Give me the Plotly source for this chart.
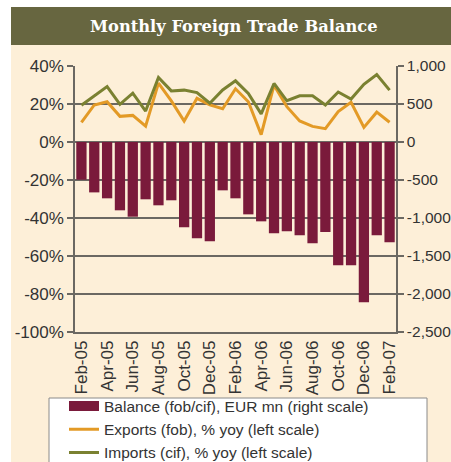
import plotly.graph_objects as go

months = ["Feb-05","Mar-05","Apr-05","May-05","Jun-05","Jul-05","Aug-05","Sep-05","Oct-05","Nov-05","Dec-05","Jan-06",
          "Feb-06","Mar-06","Apr-06","May-06","Jun-06","Jul-06","Aug-06","Sep-06","Oct-06","Nov-06","Dec-06","Jan-07","Feb-07"]
balance = [-496, -663, -741, -899, -983, -754, -833, -767, -1123, -1268, -1307, -636,
           -741, -952, -1044, -1202, -1175, -1228, -1333, -1184, -1623, -1623, -2110, -1228, -1320]
exports = [10.3, 19.5, 21.2, 13.5, 14.0, 8.3, 31.0, 21.6, 11.0, 23.0, 19.5, 17.5,
           28.0, 21.2, 3.9, 29.9, 18.6, 11.1, 8.2, 7.0, 16.0, 20.9, 7.7, 15.7, 10.4]
imports = [19.3, 24.2, 29.2, 19.8, 25.7, 16.3, 34.0, 26.9, 27.3, 26.0, 20.4, 27.4,
           32.2, 25.6, 14.8, 30.8, 21.7, 24.3, 24.3, 19.5, 26.3, 22.6, 30.4, 35.5, 27.3]
tick_labels = months[::2]
left_ticks = [40, 20, 0, -20, -40, -60, -80, -100]
right_ticks = [1000, 500, 0, -500, -1000, -1500, -2000, -2500]

MAROON = "#7A1A3B"
ORANGE = "#E39A26"
GREEN = "#7A8131"
CREAM = "#FDEFD8"
OLIVE = "#676640"
GRID = "#6b6862"
FONT = "Liberation Sans, Arial, sans-serif"

W, H = 451, 462
L, R, T, B = 75, 396, 66, 332

def px(x):
    return (x - L) / (R - L)

def py(y):
    return (B - y) / (B - T)

fig = go.Figure()
fig.add_trace(go.Bar(x=months, y=balance, yaxis="y2", marker=dict(color=MAROON, line=dict(width=0)),
                     showlegend=False, name="Balance (fob/cif), EUR mn (right scale)"))
fig.add_trace(go.Scatter(x=[None], y=[None], mode="lines", line=dict(color=MAROON, width=10),
                         name="Balance (fob/cif), EUR mn (right scale)"))
fig.add_trace(go.Scatter(x=months, y=exports, mode="lines", line=dict(color=ORANGE, width=3),
                         name="Exports (fob), % yoy (left scale)"))
fig.add_trace(go.Scatter(x=months, y=imports, mode="lines", line=dict(color=GREEN, width=3),
                         name="Imports (cif), % yoy (left scale)"))

fig.update_layout(
    width=W, height=H,
    margin=dict(l=L, r=W - R, t=T, b=H - B, pad=0, autoexpand=False),
    paper_bgcolor="white",
    plot_bgcolor="rgba(0,0,0,0)",
    bargap=0.2,
    font=dict(family=FONT, color="#333333", size=17),
    xaxis=dict(type="category", categoryorder="array", categoryarray=months,
               tickmode="array", tickvals=tick_labels, ticktext=tick_labels, tickangle=-90,
               showline=True, linecolor=GRID, linewidth=1.5, showgrid=False, ticks="",
               tickfont=dict(size=17, color="#333333"), range=[-0.5, 24.5]),
    yaxis=dict(range=[-100, 40], tickvals=left_ticks, ticktext=[f"{v}%" for v in left_ticks],
               showline=True, linecolor=GRID, linewidth=1.5, ticks="outside", ticklen=6,
               tickcolor=GRID, tickwidth=1.5, showgrid=True, gridcolor=GRID, gridwidth=1.5,
               zeroline=False, tickfont=dict(size=17)),
    yaxis2=dict(range=[-2500, 1000], overlaying="y", side="right", tickvals=right_ticks,
                ticktext=[f"{v:,}" for v in right_ticks], showline=True, linecolor=GRID, linewidth=1.5,
                ticks="outside", ticklen=6, tickcolor=GRID, tickwidth=1.5, showgrid=False,
                zeroline=False, tickfont=dict(size=15.5)),
    legend=dict(x=px(64), y=py(389.5), xanchor="left", yanchor="top", bgcolor="rgba(0,0,0,0)",
                borderwidth=0, font=dict(size=15.5, color="#333333"),
                traceorder="normal", tracegroupgap=0),
    shapes=[
        dict(type="rect", xref="paper", yref="paper", x0=px(11), x1=px(451), y0=py(462), y1=py(45),
             fillcolor=CREAM, line=dict(width=0), layer="below"),
        dict(type="rect", xref="paper", yref="paper", x0=px(11), x1=px(451), y0=py(45), y1=py(7),
             fillcolor=OLIVE, line=dict(width=0), layer="below"),
        dict(type="rect", xref="paper", yref="paper", x0=px(49), x1=px(427), y0=py(475), y1=py(398),
             fillcolor="white", line=dict(width=1, color="#8a8a8a"), layer="below"),
    ],
    annotations=[
        dict(text="<b>Monthly Foreign Trade Balance</b>", xref="paper", yref="paper",
             x=px(234), y=py(26), xanchor="center", yanchor="middle", showarrow=False,
             font=dict(family="DejaVu Serif", size=16.3, color="white")),
    ],
)

fig.write_html("out.html", config={"displayModeBar": False},
               post_script="document.body.style.margin='0';document.body.style.padding='0';")
